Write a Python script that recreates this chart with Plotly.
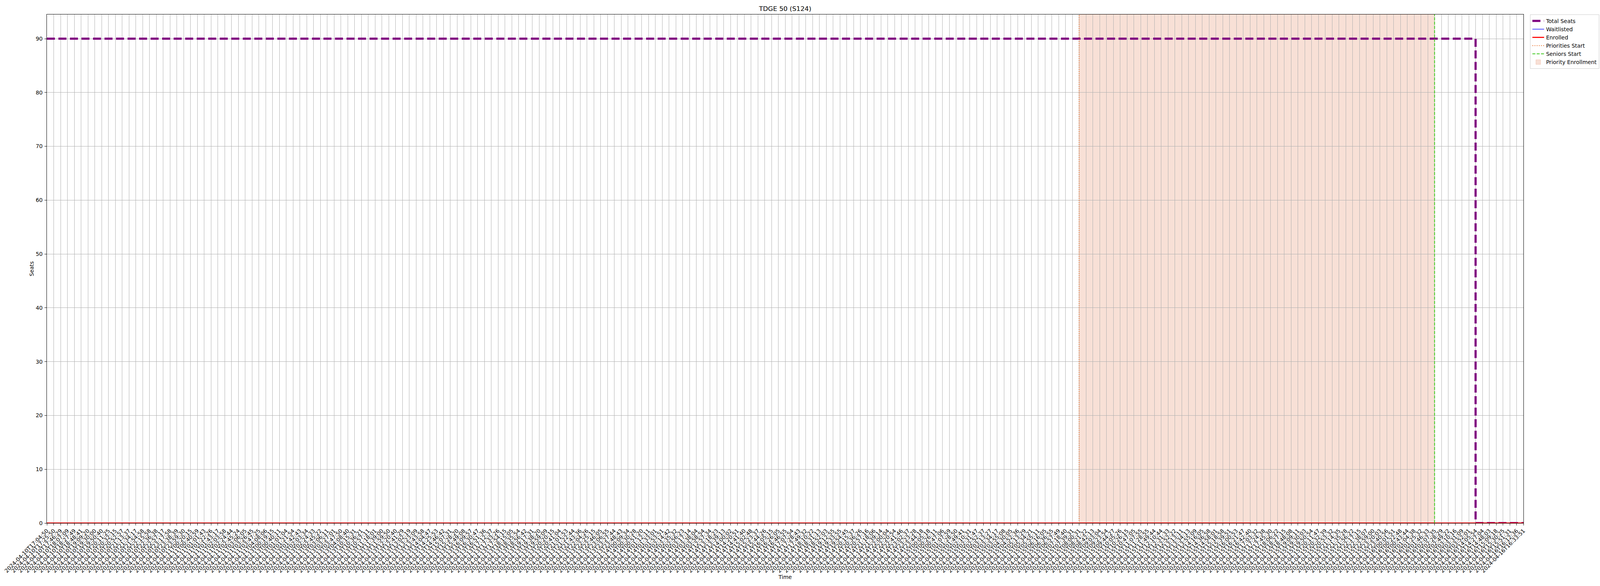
import plotly.graph_objects as go

# ---- data ----
day10 = ["17:04:50", "17:25:50", "17:46:29", "18:07:09", "18:27:49", "18:48:41", "19:09:20",
         "19:30:00", "19:50:40", "20:11:25", "20:32:15", "20:52:57", "21:13:37", "21:34:17",
         "21:54:58", "22:15:58", "22:36:38", "22:57:17", "23:17:58", "23:38:39", "23:59:30"]
day11 = ["00:20:15", "00:40:59", "01:01:43", "01:22:26", "01:43:17", "02:03:58", "02:24:44",
         "02:45:24", "03:06:05", "03:26:45", "03:47:25", "04:08:06"]
day13 = ["00:19:15", "00:40:11", "01:01:04", "01:21:54", "01:42:43", "02:03:34", "02:24:33",
         "02:45:22", "03:06:11", "03:27:01", "03:47:50", "04:08:40", "10:15:31", "10:36:21",
         "10:57:11", "11:18:01", "11:39:00", "11:59:50", "12:20:40", "12:41:29", "13:02:19",
         "13:23:09", "13:43:58", "14:04:47", "14:25:53", "14:46:42", "15:07:31", "15:28:20",
         "15:49:08", "16:09:57", "16:30:47", "16:51:36", "17:12:37", "17:33:26", "17:54:15",
         "18:15:05", "18:35:54", "18:56:42", "19:17:31", "19:38:20", "19:59:09", "20:20:15",
         "20:41:04", "21:01:53", "21:22:44", "21:43:36", "22:04:26", "22:25:15", "22:46:05",
         "23:06:55", "23:27:44", "23:48:43"]
day14 = ["00:09:34", "00:30:28", "00:51:20", "01:12:11", "01:33:01", "01:53:51", "02:14:42",
         "02:35:32", "02:56:23", "03:17:14", "03:38:04", "03:58:54", "12:57:34", "13:18:23",
         "13:39:13", "14:00:02", "14:20:51", "14:41:40", "15:02:48", "15:23:37", "15:44:26",
         "16:05:15", "16:26:05", "16:46:55", "17:07:54", "17:28:43", "17:49:32", "18:10:22",
         "18:31:13", "18:52:03", "19:12:55", "19:33:55", "19:54:45", "20:15:37", "20:36:26",
         "20:57:16", "21:18:06", "21:39:14", "22:00:04", "22:20:54", "22:41:46", "23:02:37",
         "23:23:28", "23:44:18"]
day15 = ["00:05:18", "00:26:11", "00:47:06", "01:07:59", "01:28:50", "01:49:41", "02:10:31",
         "02:31:47", "02:52:37", "03:13:27", "03:34:17", "03:55:08", "04:30:05", "04:52:36",
         "05:13:29", "05:34:21", "05:55:11", "06:16:05", "06:36:55", "06:57:49", "07:18:40",
         "07:39:31", "08:00:31", "08:21:22", "08:42:13", "09:03:04", "09:23:54", "09:44:27",
         "10:05:26", "10:26:15", "10:47:05", "11:07:55", "11:28:55", "11:49:44", "12:10:44",
         "12:31:33", "12:52:22", "13:13:11", "13:34:13", "13:55:09", "14:16:05", "14:36:58",
         "14:58:01", "15:18:58", "15:39:51", "16:00:53", "16:21:47", "16:42:40", "17:03:32",
         "17:24:38", "17:45:30", "18:06:22", "18:27:15", "18:48:08", "19:09:11", "19:30:03",
         "19:50:54", "20:11:47", "20:32:39", "20:53:32", "21:14:35", "21:35:28", "21:56:22",
         "22:17:15", "22:38:07", "22:59:00", "23:20:03", "23:40:56"]
day16 = ["00:01:51", "00:22:48", "00:43:44", "01:04:38", "01:25:32", "01:46:33", "02:07:35",
         "02:28:29", "02:49:22", "03:10:16", "03:31:09", "03:52:01", "14:05:54", "14:27:04",
         "14:48:03", "15:09:18", "15:30:25", "15:51:31", "16:12:36", "16:33:51"]

days = [("2024-04-10", day10), ("2024-04-11", day11), ("2024-04-13", day13),
        ("2024-04-14", day14), ("2024-04-15", day15), ("2024-04-16", day16)]
times = [d + "T" + t for d, lst in days for t in lst]

seats10 = [90, 90, 90, 90, 90, 90, 90, 90, 90, 90, 90, 90, 90, 90, 90, 90, 90, 90, 90, 90, 90]
seats11 = [90, 90, 90, 90, 90, 90, 90, 90, 90, 90, 90, 90]
seats13 = [90, 90, 90, 90, 90, 90, 90, 90, 90, 90, 90, 90, 90, 90, 90, 90, 90, 90, 90, 90,
           90, 90, 90, 90, 90, 90, 90, 90, 90, 90, 90, 90, 90, 90, 90, 90, 90, 90, 90, 90,
           90, 90, 90, 90, 90, 90, 90, 90, 90, 90, 90, 90]
seats14 = [90, 90, 90, 90, 90, 90, 90, 90, 90, 90, 90, 90, 90, 90, 90, 90, 90, 90, 90, 90,
           90, 90, 90, 90, 90, 90, 90, 90, 90, 90, 90, 90, 90, 90, 90, 90, 90, 90, 90, 90,
           90, 90, 90, 90]
seats15 = [90, 90, 90, 90, 90, 90, 90, 90, 90, 90, 90, 90, 90, 90, 90, 90, 90, 90, 90, 90,
           90, 90, 90, 90, 90, 90, 90, 90, 90, 90, 90, 90, 90, 90, 90, 90, 90, 90, 90, 90,
           90, 90, 90, 90, 90, 90, 90, 90, 90, 90, 90, 90, 90, 90, 90, 90, 90, 90, 90, 90,
           90, 90, 90, 90, 90, 90, 90, 90]
seats16 = [90, 90, 90, 90, 90, 90, 90, 90, 90, 90, 90, 90, 0, 0, 0, 0, 0, 0, 0, 0]
total_seats = seats10 + seats11 + seats13 + seats14 + seats15 + seats16

waitlisted = [0 for _ in times]   # every reading is 0
enrolled = [0 for _ in times]     # every reading is 0

priorities_start = "2024-04-15T08:00:31"
seniors_start = "2024-04-16T02:07:35"

y_ticks = [0, 10, 20, 30, 40, 50, 60, 70, 80, 90]
y_max = 94.5

# ---- styles / geometry (reference is 6000 x 1500) ----
FONT = "DejaVu Sans"
PRIO_COLOR = "#e8702a"
SEN_COLOR = "#3ec81e"
SHADE = "rgba(220,100,50,0.2)"
W, H = 6000, 1500
L, R, T, B = 131, 287, 37, 161
MIN_L = 120          # room for the first rotated tick label
LEGEND_LEFT = 5825

fig = go.Figure()
fig.add_trace(go.Scatter(
    x=times, y=total_seats, name="Total Seats", mode="lines", line_shape="hv",
    line=dict(color="#800080", width=5.56, dash="20.6px,8.9px"), legendrank=1))
fig.add_trace(go.Scatter(
    x=times, y=waitlisted, name="Waitlisted", mode="lines", line_shape="hv",
    line=dict(color="blue", width=1.39), legendrank=2))
fig.add_trace(go.Scatter(
    x=times, y=enrolled, name="Enrolled", mode="lines", line_shape="hv",
    line=dict(color="red", width=2.78), legendrank=3))

fig.add_shape(type="line", xref="x", yref="paper", x0=priorities_start, x1=priorities_start,
              y0=0, y1=1, line=dict(color=PRIO_COLOR, width=2.08, dash="2.1px,3.4px"),
              layer="above", name="Priorities Start", showlegend=True, legendrank=4)
fig.add_shape(type="line", xref="x", yref="paper", x0=seniors_start, x1=seniors_start,
              y0=0, y1=1, line=dict(color=SEN_COLOR, width=2.08, dash="7.7px,3.3px"),
              layer="above", name="Seniors Start", showlegend=True, legendrank=5)
fig.add_shape(type="rect", xref="x", yref="paper", x0=priorities_start, x1=seniors_start,
              y0=0, y1=1, fillcolor=SHADE, line=dict(color="rgba(220,100,50,0.25)", width=1),
              layer="below", name="Priority Enrollment", showlegend=True, legendrank=6)

fig.update_layout(
    width=W, height=H,
    margin=dict(l=L, r=R, t=T, b=B, autoexpand=False),
    paper_bgcolor="white", plot_bgcolor="white",
    font=dict(family=FONT, size=13.9, color="black"),
    title=dict(text="TDGE 50 (S124)", x=0.5, xref="paper", xanchor="center",
               y=1 - 22 / H, yref="container", yanchor="middle",
               font=dict(family=FONT, size=16.7, color="black")),
    legend=dict(x=(LEGEND_LEFT - L) / (W - L - R), y=1.0, xanchor="left", yanchor="top",
                bgcolor="white", bordercolor="#cccccc", borderwidth=1,
                font=dict(family=FONT, size=13.9, color="black"),
                traceorder="normal"),
    showlegend=True,
)

fig.update_xaxes(
    type="category", categoryorder="array", categoryarray=times,
    range=[0, len(times) - 1],
    tickmode="array", tickvals=times, ticktext=times, tickangle=-45,
    ticks="outside", ticklen=5, tickwidth=1.1, tickcolor="black",
    showgrid=True, gridcolor="#b0b0b0", gridwidth=1.1,
    showline=True, linecolor="black", linewidth=1.1, mirror=True,
    zeroline=False, automargin=False,
    tickfont=dict(family=FONT, size=13.9, color="black"),
    title=dict(text="Time", standoff=4, font=dict(family=FONT, size=13.9, color="black")),
)
fig.update_yaxes(
    range=[0, y_max], tickmode="array", tickvals=y_ticks,
    ticks="outside", ticklen=5, tickwidth=1.1, tickcolor="black",
    showgrid=True, gridcolor="#b0b0b0", gridwidth=1.1,
    showline=True, linecolor="black", linewidth=1.1, mirror=True,
    zeroline=False, automargin=False, ticklabelstandoff=2,
    tickfont=dict(family=FONT, size=13.9, color="black"),
    title=dict(text="Seats", standoff=1, font=dict(family=FONT, size=13.9, color="black")),
)

# The browser may clamp the window narrower than the 6000 px reference: in that
# case re-fit the figure to the window, keeping horizontal proportions.
post_script = """
(function () {
  document.body.style.margin = '0';
  var gd = document.getElementById('{plot_id}');
  var W0 = %d, L0 = %d, R0 = %d, MINL = %d;
  var w = window.innerWidth || W0;
  if (w >= W0) { return; }
  var k = w / W0;
  var l = Math.max(L0 * k, MINL), r = R0 * k;
  gd.style.width = w + 'px';
  Plotly.relayout(gd, {
    'width': w,
    'margin.l': l,
    'margin.r': r,
    'legend.xanchor': 'right',
    'legend.x': (w - 2 - l) / (w - l - r)
  });
})();
""" % (W, L, R, MIN_L)

fig.write_html("out.html", post_script=post_script, config={"displayModeBar": False})
